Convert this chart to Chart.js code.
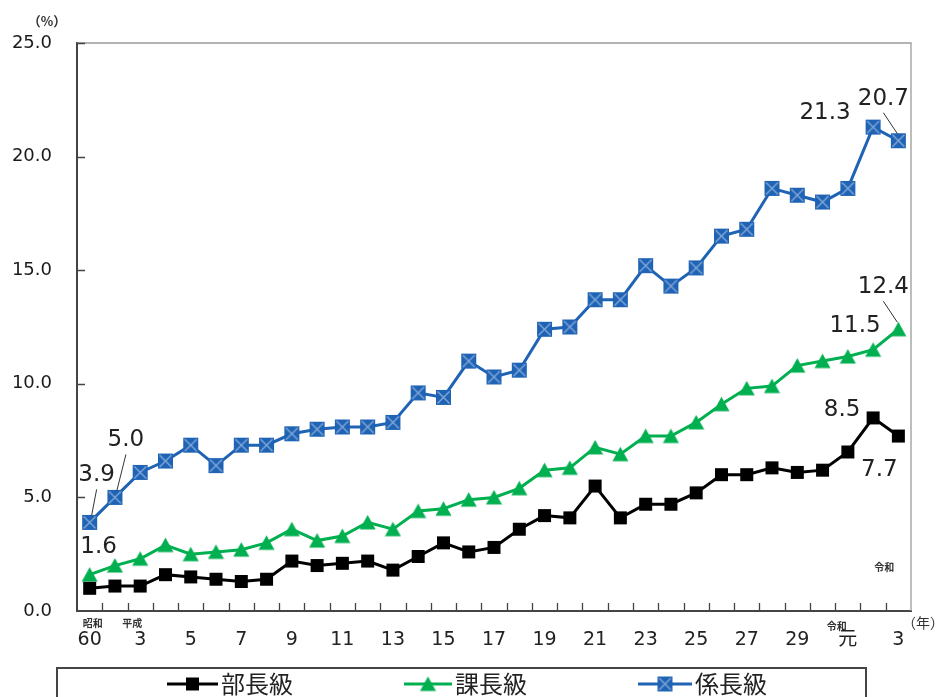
<!DOCTYPE html>
<html lang="ja">
<head>
<meta charset="UTF-8">
<title>役職別女性割合の推移</title>
<script src="https://cdn.jsdelivr.net/npm/chart.js"></script>
<style>
  html, body { margin: 0; padding: 0; background: #fff; }
  #wrap { width: 941px; height: 697px; position: relative; }
</style>
</head>
<body>
<div id="wrap"><canvas id="chart" width="941" height="697"></canvas></div>
<script>
// 年（昭和60年、平成2年〜令和3年）
const categories = ['昭和60',
  '平成2','平成3','平成4','平成5','平成6','平成7','平成8','平成9','平成10',
  '平成11','平成12','平成13','平成14','平成15','平成16','平成17','平成18','平成19','平成20',
  '平成21','平成22','平成23','平成24','平成25','平成26','平成27','平成28','平成29','平成30',
  '令和元','令和2','令和3'];
const tickLabels = ['60','','3','','5','','7','','9','','11','','13','','15','','17','','19','',
  '21','','23','','25','','27','','29','','元','','3'];
const yTicks = [0, 5, 10, 15, 20, 25];

// 部長級・課長級・係長級 (%)
const buchou = [1.0, 1.1, 1.1, 1.6, 1.5, 1.4, 1.3, 1.4, 2.2, 2.0, 2.1, 2.2, 1.8, 2.4, 3.0, 2.6, 2.8,
  3.6, 4.2, 4.1, 5.5, 4.1, 4.7, 4.7, 5.2, 6.0, 6.0, 6.3, 6.1, 6.2, 7.0, 8.5, 7.7];
const kachou = [1.6, 2.0, 2.3, 2.9, 2.5, 2.6, 2.7, 3.0, 3.6, 3.1, 3.3, 3.9, 3.6, 4.4, 4.5, 4.9, 5.0,
  5.4, 6.2, 6.3, 7.2, 6.9, 7.7, 7.7, 8.3, 9.1, 9.8, 9.9, 10.8, 11.0, 11.2, 11.5, 12.4];
const kakarichou = [3.9, 5.0, 6.1, 6.6, 7.3, 6.4, 7.3, 7.3, 7.8, 8.0, 8.1, 8.1, 8.3, 9.6, 9.4, 11.0, 10.3,
  10.6, 12.4, 12.5, 13.7, 13.7, 15.2, 14.3, 15.1, 16.5, 16.8, 18.6, 18.3, 18.0, 18.6, 21.3, 20.7];

const seriesNames = ['部長級', '課長級', '係長級'];

// 数値ラベル: [系列, 年の位置, dx, dy, 引き出し線]
const valueLabels = [
  [2, 0, 7, -47, true],
  [2, 1, 11, -57, true],
  [1, 0, 9, -28, false],
  [2, 31, -48, -14, false],
  [2, 32, -15, -42, true],
  [1, 32, -15, -42, true],
  [1, 31, -18, -24, false],
  [0, 31, -31, -8, false],
  [0, 32, -19, 34, false]
];

const BLUE = '#1f63b5';
const GREEN = '#00b050';
const BLACK = '#000000';
const NUM_FONT = '"DejaVu Sans", "Noto Sans CJK JP", sans-serif';
const JP_FONT = '"Noto Sans CJK JP", sans-serif';

function makeMarker(kind) {
  const c = document.createElement('canvas');
  const s = 17;
  c.width = s; c.height = s;
  const g = c.getContext('2d');
  if (kind === 'square') {
    g.fillStyle = BLACK;
    g.fillRect(2, 2, 13, 13);
  } else if (kind === 'triangle') {
    g.fillStyle = GREEN;
    g.beginPath();
    g.moveTo(8.5, 1);
    g.lineTo(16.5, 15.5);
    g.lineTo(0.5, 15.5);
    g.closePath();
    g.fill();
  } else {
    g.fillStyle = BLUE;
    g.fillRect(1, 1, 15, 15);
    g.strokeStyle = '#86a9d9';
    g.lineWidth = 1.4;
    g.beginPath();
    g.moveTo(2.5, 2.5); g.lineTo(14.5, 14.5);
    g.moveTo(14.5, 2.5); g.lineTo(2.5, 14.5);
    g.stroke();
  }
  return c;
}

const markers = [makeMarker('square'), makeMarker('triangle'), makeMarker('cross')];
const colors = [BLACK, GREEN, BLUE];

const decorations = {
  id: 'decorations',
  afterDraw(chart) {
    const ctx = chart.ctx;
    const a = chart.chartArea;
    const x = chart.scales.x;
    const y = chart.scales.y;
    ctx.save();

    // 上・右の枠線
    ctx.strokeStyle = '#9a9a9a';
    ctx.lineWidth = 1.3;
    ctx.beginPath();
    ctx.moveTo(a.left, a.top);
    ctx.lineTo(a.right, a.top);
    ctx.lineTo(a.right, a.bottom);
    ctx.stroke();

    // 内向きの目盛り
    ctx.strokeStyle = '#444';
    ctx.lineWidth = 1.3;
    ctx.beginPath();
    const half = (x.getPixelForValue(1) - x.getPixelForValue(0)) / 2;
    for (let i = 1; i < categories.length; i++) {
      const px = Math.round(x.getPixelForValue(i) - half) + 0.5;
      ctx.moveTo(px, a.bottom);
      ctx.lineTo(px, a.bottom - 8);
    }
    yTicks.forEach(v => {
      if (v === 0) return;
      const py = Math.round(y.getPixelForValue(v)) + 0.5;
      ctx.moveTo(a.left, py);
      ctx.lineTo(a.left + 8, py);
    });
    ctx.stroke();

    // 数値ラベル
    ctx.fillStyle = '#222';
    ctx.font = '23px ' + NUM_FONT;
    ctx.textAlign = 'center';
    ctx.textBaseline = 'middle';
    valueLabels.forEach(([s, i, dx, dy, leader]) => {
      const pt = chart.getDatasetMeta(s).data[i];
      const values = [buchou, kachou, kakarichou][s];
      const tx = pt.x + dx, ty = pt.y + dy;
      ctx.fillText(values[i].toFixed(1), tx, ty);
      if (leader) {
        ctx.save();
        ctx.strokeStyle = '#333';
        ctx.lineWidth = 1;
        ctx.beginPath();
        ctx.moveTo(tx, ty + 14);
        ctx.lineTo(pt.x + (tx > pt.x ? 2 : -1), pt.y - 7);
        ctx.stroke();
        ctx.restore();
      }
    });

    // 元号
    ctx.fillStyle = '#333';
    ctx.font = 'bold 10px ' + JP_FONT;
    ctx.fillText('昭和', x.getPixelForValue(0) + 3, a.bottom + 12);
    ctx.fillText('平成', x.getPixelForValue(2) - 8, a.bottom + 12);
    ctx.fillText('令和', x.getPixelForValue(30) - 11, a.bottom + 15);
    ctx.fillText('令和', x.getPixelForValue(32) - 14, a.bottom - 44);

    // 単位
    ctx.font = 'bold 13px ' + JP_FONT;
    ctx.fillText('（%）', a.left - 30, a.top - 22);
    ctx.font = '14px ' + JP_FONT;
    ctx.fillText('（年）', a.right + 12, a.bottom + 12);

    // 凡例
    const top = 668;
    ctx.strokeStyle = '#444';
    ctx.lineWidth = 2;
    ctx.strokeRect(57, top, 809, 60);
    const items = [[167, 218], [404, 452], [638, 692]];
    items.forEach(([x0, x1], k) => {
      const ly = 684;
      ctx.strokeStyle = colors[k];
      ctx.lineWidth = 3;
      ctx.beginPath();
      ctx.moveTo(x0, ly);
      ctx.lineTo(x1, ly);
      ctx.stroke();
      const m = markers[k];
      ctx.drawImage(m, (x0 + x1) / 2 - m.width / 2, ly - m.height / 2);
      ctx.fillStyle = '#222';
      ctx.font = '24px ' + JP_FONT;
      ctx.textAlign = 'left';
      ctx.fillText(seriesNames[k], x1 + 3, ly);
    });

    ctx.restore();
  }
};

function line(label, data, color, marker) {
  return {
    label: label,
    data: data,
    borderColor: color,
    borderWidth: 3,
    pointStyle: marker,
    pointRadius: 8,
    pointHoverRadius: 8,
    fill: false,
    tension: 0
  };
}

new Chart(document.getElementById('chart'), {
  type: 'line',
  data: {
    labels: categories,
    datasets: [
      line(seriesNames[0], buchou, BLACK, markers[0]),
      line(seriesNames[1], kachou, GREEN, markers[1]),
      line(seriesNames[2], kakarichou, BLUE, markers[2])
    ]
  },
  options: {
    responsive: false,
    animation: false,
    events: [],
    layout: { padding: { top: 43, right: 30, left: 0, bottom: 0 } },
    plugins: { legend: { display: false }, tooltip: { enabled: false } },
    scales: {
      x: {
        offset: true,
        grid: { display: false, drawTicks: false },
        border: { display: true, color: '#444', width: 2 },
        afterFit(scale) { scale.height = 86; },
        ticks: {
          autoSkip: false,
          maxRotation: 0,
          padding: 18,
          color: '#222',
          font: { family: NUM_FONT, size: 19 },
          callback: (v, i) => tickLabels[i]
        }
      },
      y: {
        min: 0,
        max: 25,
        afterFit(scale) { scale.width = 77; },
        afterBuildTicks(scale) { scale.ticks = yTicks.map(v => ({ value: v })); },
        grid: { display: false, drawTicks: false },
        border: { display: true, color: '#444', width: 2 },
        ticks: {
          padding: 25,
          color: '#1a1a1a',
          font: { family: NUM_FONT, size: 18 },
          callback: v => v.toFixed(1)
        }
      }
    }
  },
  plugins: [decorations]
});
</script>
</body>
</html>
